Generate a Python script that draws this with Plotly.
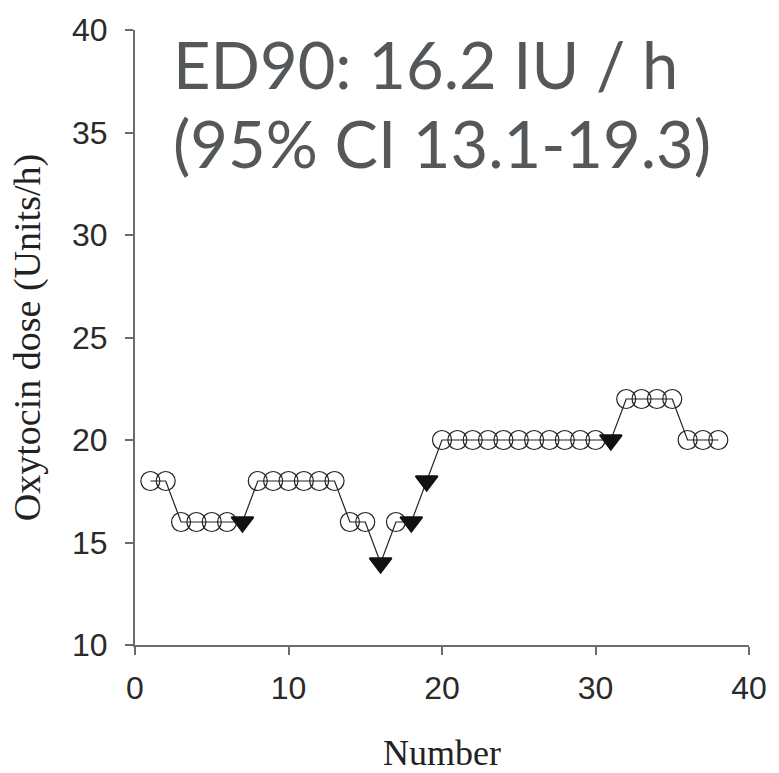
import plotly.graph_objects as go

number = list(range(1, 39))
dose = [18, 18, 16, 16, 16, 16, 16, 18, 18, 18, 18, 18, 18, 16, 16, 14, 16, 16, 18,
        20, 20, 20, 20, 20, 20, 20, 20, 20, 20, 20, 20, 22, 22, 22, 22, 20, 20, 20]
# 1 = effective (open circle), 0 = ineffective (filled down-triangle)
effective = [1, 1, 1, 1, 1, 1, 0, 1, 1, 1, 1, 1, 1, 1, 1, 0, 1, 0, 0,
             1, 1, 1, 1, 1, 1, 1, 1, 1, 1, 1, 0, 1, 1, 1, 1, 1, 1, 1]
x_ticks = [0, 10, 20, 30, 40]
y_ticks = [10, 15, 20, 25, 30, 35, 40]
note_lines = ["ED90: 16.2 IU / h", "(95% CI 13.1-19.3)"]

xs_ok = [n for n, e in zip(number, effective) if e]
ys_ok = [d for d, e in zip(dose, effective) if e]
xs_bad = [n for n, e in zip(number, effective) if not e]
ys_bad = [d for d, e in zip(dose, effective) if not e]

fig = go.Figure()
fig.add_trace(go.Scatter(x=number, y=dose, mode="lines",
                         line=dict(color="#222222", width=1.2), showlegend=False))
fig.add_trace(go.Scatter(x=xs_ok, y=ys_ok, mode="markers",
                         marker=dict(symbol="circle-open", size=19,
                                     color="#222222", line=dict(width=1.2)),
                         showlegend=False))
fig.add_trace(go.Scatter(x=xs_bad, y=ys_bad, mode="markers",
                         marker=dict(symbol="triangle-down", size=19, color="#111111",
                                     line=dict(width=2, color="#111111")),
                         showlegend=False))

axis_common = dict(showline=True, linecolor="#6b6b6b", linewidth=2,
                   ticks="outside", ticklen=8, tickwidth=2, tickcolor="#6b6b6b",
                   showgrid=False, zeroline=False,
                   tickfont=dict(family="Liberation Sans", size=32, color="#2a2a2a"))

fig.update_xaxes(range=[0, 40], tickvals=x_ticks, ticklabelstandoff=6, **axis_common)
fig.update_yaxes(range=[10, 40], tickvals=y_ticks, ticklabelstandoff=11,
                 title=dict(text="Oxytocin dose (Units/h)", standoff=20,
                            font=dict(family="Liberation Serif", size=38,
                                      color="#222222")),
                 **axis_common)

# x-axis title placed as an annotation so it can sit low in the bottom margin
fig.add_annotation(xref="paper", yref="paper", x=0.5, y=-(755 - 645) / 625.0,
                   xanchor="center", yanchor="middle", showarrow=False,
                   text="Number",
                   font=dict(family="Liberation Serif", size=36, color="#222222"))

for txt, ypos in zip(note_lines, [90, 170]):
    fig.add_annotation(xref="paper", yref="paper", x=0.058,
                       y=1 - (ypos - 20) / 625.0,
                       xanchor="left", yanchor="bottom", align="left", showarrow=False,
                       yshift=-6,
                       text=txt,
                       font=dict(family="Lato", size=65, color="#54585b"))

fig.update_layout(width=779, height=773, plot_bgcolor="white", paper_bgcolor="white",
                  margin=dict(l=135, r=22, t=20, b=128))

fig.write_html("out.html")
